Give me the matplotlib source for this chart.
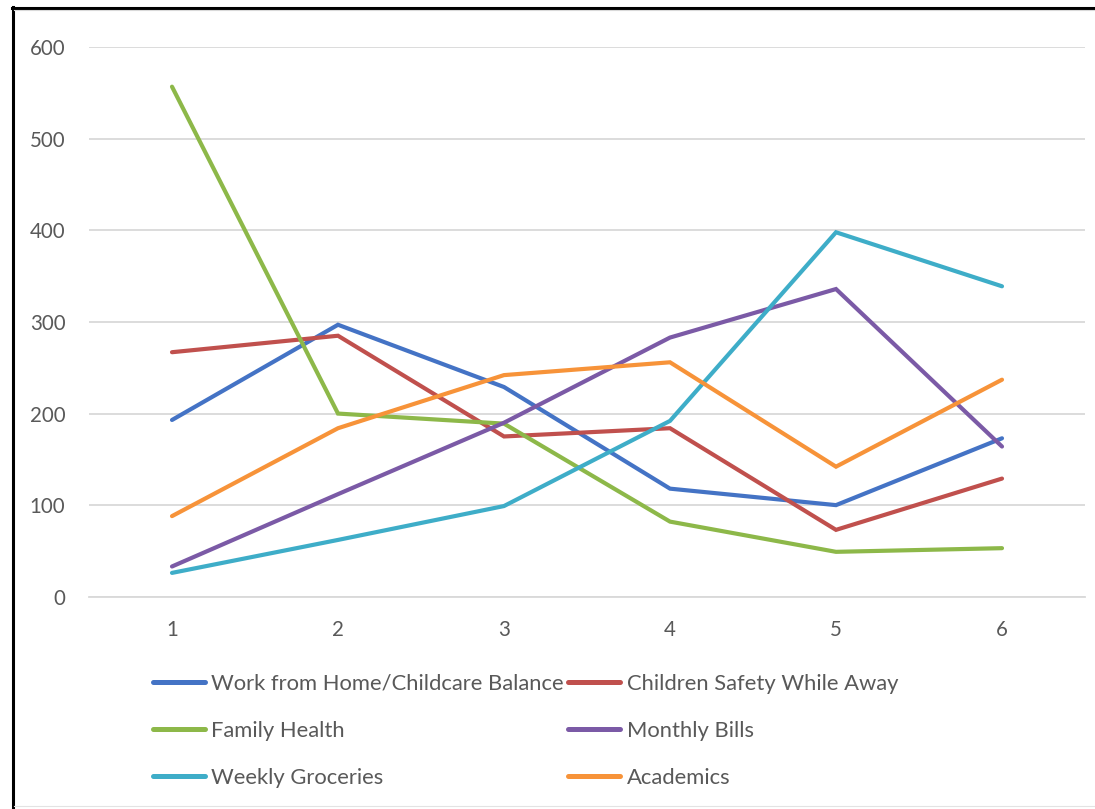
import matplotlib
matplotlib.use("Agg")
import matplotlib.pyplot as plt
from matplotlib.lines import Line2D

plt.rcParams['font.family'] = ['Lato', 'DejaVu Sans']

# Survey rank positions and the counts for each concern
ranks = [1, 2, 3, 4, 5, 6]
work_home_childcare = [193, 297, 229, 118, 100, 173]
children_safety = [267, 285, 175, 184, 73, 129]
family_health = [557, 200, 189, 82, 49, 53]
monthly_bills = [33, 112, 190, 283, 336, 164]
weekly_groceries = [26, 62, 99, 192, 398, 339]
academics = [88, 184, 242, 256, 142, 237]

series_names = [
    "Work from Home/Childcare Balance",
    "Children Safety While Away",
    "Family Health",
    "Monthly Bills",
    "Weekly Groceries",
    "Academics",
]
series_values = [work_home_childcare, children_safety, family_health,
                 monthly_bills, weekly_groceries, academics]
series_colors = ["#4473C5", "#C0504D", "#8DB849", "#7B5AA6", "#3EADC8", "#F79339"]

y_ticks = [0, 100, 200, 300, 400, 500, 600]

W, H = 1095, 809
fig = plt.figure(figsize=(W / 100, H / 100), dpi=100)

ax = fig.add_axes([89 / W, (H - 596.7) / H, 996 / W, 549.4 / H])

lines = []
for name, vals, col in zip(series_names, series_values, series_colors):
    ln, = ax.plot(ranks, vals, color=col, lw=3.0, solid_capstyle='round',
                  solid_joinstyle='miter', label=name, zorder=3)
    lines.append(ln)

ax.set_xlim(0.5, 6.5)
ax.set_ylim(0, 600)
ax.set_xticks(ranks)
ax.set_yticks(y_ticks)
ax.yaxis.grid(True, color="#D9D9D9", lw=1.3, zorder=0)
ax.set_axisbelow(True)
for side in ("top", "right", "left"):
    ax.spines[side].set_visible(False)
ax.spines["bottom"].set_color("#D9D9D9")
ax.spines["bottom"].set_linewidth(1.3)
ax.tick_params(axis='both', length=0, labelsize=14.8, colors="#595959")
ax.tick_params(axis='y', pad=17)
ax.tick_params(axis='x', pad=17)

# Legend: two columns, filled row by row
order = [0, 2, 4, 1, 3, 5]
leg = fig.legend([lines[i] for i in order], [series_names[i] for i in order],
                 ncol=2, loc="upper left", bbox_to_anchor=(153 / W, 1 - 674 / H),
                 frameon=False, fontsize=15.85, handlelength=2.35, handletextpad=0.3,
                 columnspacing=0.2, labelspacing=1.22, borderaxespad=0, borderpad=0)
for t in leg.get_texts():
    t.set_color("#595959")
for h in leg.legend_handles:
    h.set_linewidth(3.6)

# Frame around the chart
fig.add_artist(Line2D([12.5 / W, 12.5 / W], [0, 1 - 7 / H], color="black", lw=2.2,
                      transform=fig.transFigure))
fig.add_artist(Line2D([11.5 / W, 1], [1 - 7.5 / H, 1 - 7.5 / H], color="black", lw=2.2,
                      transform=fig.transFigure))
fig.add_artist(Line2D([14 / W, 1], [1 - 10 / H, 1 - 10 / H], color="#D9D9D9", lw=0.8,
                      transform=fig.transFigure))
fig.add_artist(Line2D([14 / W, 1], [1 - 806 / H, 1 - 806 / H], color="#E3E3E3", lw=0.8,
                      transform=fig.transFigure))

fig.savefig("out.png", dpi=100, facecolor="white")
